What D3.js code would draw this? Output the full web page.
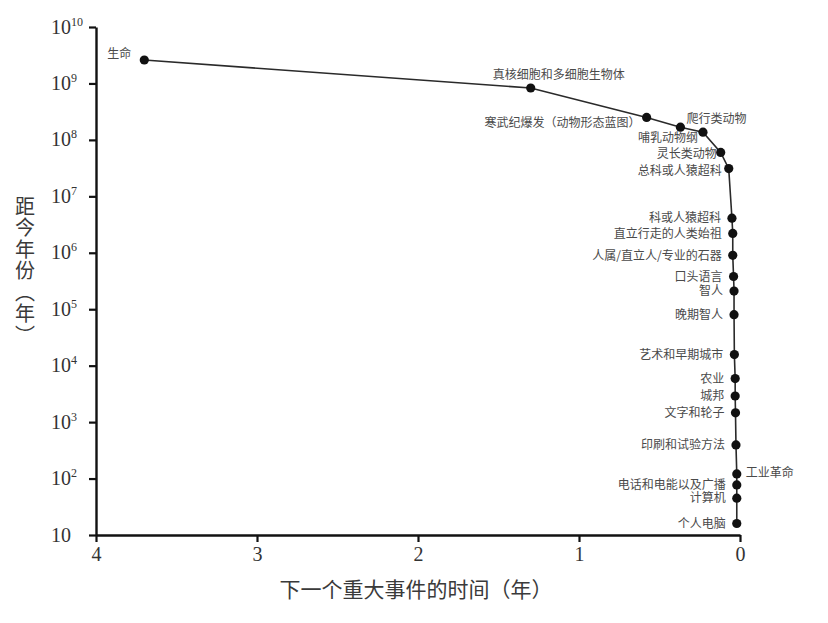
<!DOCTYPE html>
<html>
<head>
<meta charset="utf-8">
<script src="https://cdn.jsdelivr.net/npm/d3@7"></script>
<style>
  body { margin: 0; background: #fff; }
  svg { display: block; }
</style>
</head>
<body>
<div id="container"></div>
<script>
// events, oldest first
const events = [
  "生命", "真核细胞和多细胞生物体", "寒武纪爆发（动物形态蓝图）", "爬行类动物", "哺乳动物纲",
  "灵长类动物", "总科或人猿超科", "科或人猿超科", "直立行走的人类始祖", "人属/直立人/专业的石器",
  "口头语言", "智人", "晚期智人", "艺术和早期城市", "农业", "城邦", "文字和轮子",
  "印刷和试验方法", "工业革命", "电话和电能以及广播", "计算机", "个人电脑"
]
// years before present
const yearsAgo = [
  2.6e9, 8.3e8, 2.5e8, 1.68e8, 1.37e8,
  6.0e7, 3.1e7, 4.1e6, 2.2e6, 9.0e5,
  3.8e5, 2.1e5, 8.0e4, 1.57e4, 5.9e3, 2.9e3, 1.46e3,
  395, 121, 77, 45, 16
]
// time to next event (the axis unit as printed)
const timeToNext = [
  3.70, 1.30, 0.58, 0.37, 0.23,
  0.12, 0.07, 0.05, 0.045, 0.045,
  0.04, 0.037, 0.037, 0.035, 0.03, 0.03, 0.028,
  0.025, 0.02, 0.02, 0.02, 0.02
]
const xTicks = [4, 3, 2, 1, 0]
const yTickExp = [1, 2, 3, 4, 5, 6, 7, 8, 9, 10]

const width = 828
const height = 623
const serif = "'Liberation Serif', 'DejaVu Serif', serif"
const cjk = "'Noto Sans CJK SC', 'Noto Sans', sans-serif"

const svg = d3.select('#container').append('svg')
  .attr('width', width)
  .attr('height', height)

const x = d3.scaleLinear().domain([4, 0]).range([96, 740])
const y = d3.scaleLog().domain([10, 1e10]).range([535, 27])

// x axis
const xAxis = svg.append('g')
  .attr('transform', `translate(0,${y(10)})`)
  .call(d3.axisBottom(x).tickValues(xTicks).tickFormat(d3.format('d')).tickSize(7).tickSizeOuter(0))
xAxis.select('.domain').attr('stroke', '#111').attr('stroke-width', 2.4)
xAxis.selectAll('.tick line').attr('stroke', '#111').attr('stroke-width', 2.2)
xAxis.selectAll('.tick text')
  .attr('y', 12)
  .attr('font-family', serif)
  .attr('font-size', 20)
  .attr('fill', '#333')

// y axis
const yAxis = svg.append('g')
  .attr('transform', `translate(${x(4)},0)`)
  .call(d3.axisLeft(y).tickValues(yTickExp.map(e => Math.pow(10, e))).tickSize(7).tickSizeOuter(0))
yAxis.select('.domain').attr('stroke', '#111').attr('stroke-width', 2.4)
yAxis.selectAll('.tick line').attr('stroke', '#111').attr('stroke-width', 2.2)
yAxis.selectAll('.tick text').each(function (d) {
  const t = d3.select(this)
  const e = Math.round(Math.log10(d))
  t.text(null)
    .attr('x', -45)
    .attr('dy', '0.3em')
    .attr('text-anchor', 'start')
    .attr('font-family', serif)
    .attr('font-size', 20)
    .attr('fill', '#333')
  t.append('tspan').text('10')
  if (e > 1) {
    t.append('tspan').text(e).attr('font-size', 12).attr('dy', -8)
  }
})

// axis titles
svg.append('text')
  .attr('x', 416)
  .attr('y', 597)
  .attr('text-anchor', 'middle')
  .attr('font-family', cjk)
  .attr('font-size', 21)
  .attr('fill', '#3a3a3a')
  .text('下一个重大事件的时间（年）')

svg.append('text')
  .attr('x', 25)
  .attr('y', 196)
  .style('writing-mode', 'vertical-rl')
  .style('letter-spacing', '1.5px')
  .attr('font-family', cjk)
  .attr('font-size', 20)
  .attr('fill', '#3a3a3a')
  .text('距今年份（年）')

// line + points
const pts = events.map((name, i) => ({ name, t: timeToNext[i], age: yearsAgo[i] }))

svg.append('path')
  .datum(pts)
  .attr('fill', 'none')
  .attr('stroke', '#2a2a2a')
  .attr('stroke-width', 1.6)
  .attr('d', d3.line().x(d => x(d.t)).y(d => y(d.age)))

svg.selectAll('circle')
  .data(pts)
  .enter()
  .append('circle')
  .attr('cx', d => x(d.t))
  .attr('cy', d => y(d.age))
  .attr('r', 4.6)
  .attr('fill', '#111')

// label placement relative to its point
function labelSpot (i) {
  if (i === 0) return { a: 'end', dx: -13, dy: -6 }
  if (i === 1) return { a: 'middle', dx: 28, dy: -13 }
  if (i === 2) return { a: 'end', dx: -6, dy: 5 }
  if (i === 3) return { a: 'start', dx: 6, dy: -8 }
  if (i === 4) return { a: 'end', dx: -5, dy: 6 }
  if (i === 5) return { a: 'end', dx: -4, dy: 1 }
  if (i === 6) return { a: 'end', dx: -7, dy: 2 }
  if (i === 18) return { a: 'start', dx: 9, dy: -1 }
  return { a: 'end', dx: -11, dy: 0 }
}

svg.selectAll('text.label')
  .data(pts)
  .enter()
  .append('text')
  .attr('class', 'label')
  .each(function (d, i) {
    const s = labelSpot(i)
    d3.select(this)
      .attr('x', x(d.t) + s.dx)
      .attr('y', y(d.age) + s.dy)
      .attr('text-anchor', s.a)
  })
  .attr('dy', '0.35em')
  .attr('font-family', cjk)
  .attr('font-size', 12)
  .attr('fill', '#4a4a4a')
  .text(d => d.name)
</script>
</body>
</html>
